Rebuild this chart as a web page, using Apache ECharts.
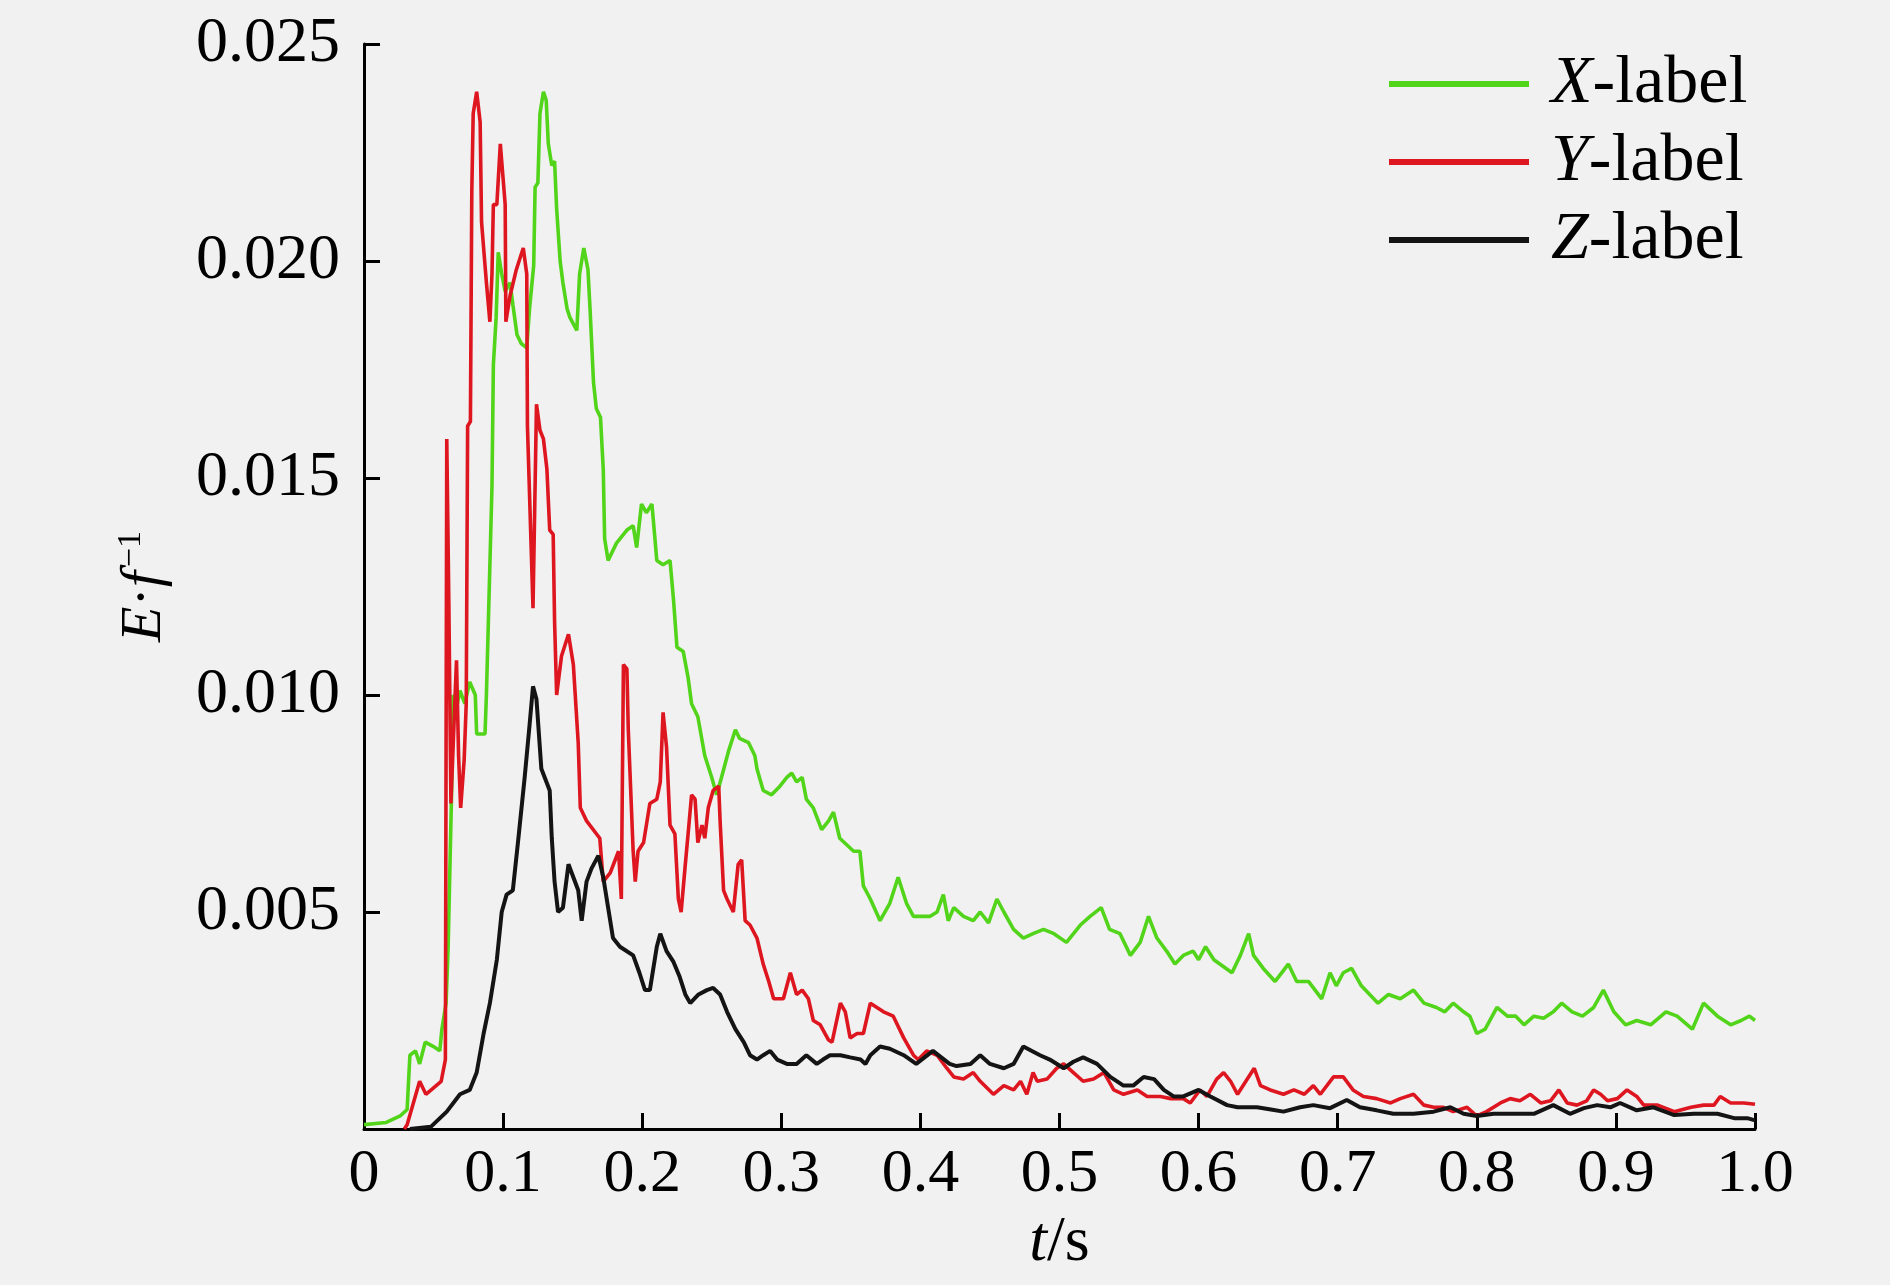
<!DOCTYPE html>
<html><head><meta charset="utf-8">
<script src="https://cdn.jsdelivr.net/npm/echarts@6/dist/echarts.min.js"></script>
<style>html,body{margin:0;padding:0;background:#f1f1f1}#c{width:1890px;height:1285px}</style>
</head><body><div id="c"></div><script>
// ---- data ----
const seriesNames = ['X-label', 'Y-label', 'Z-label'];
const xTicks = [0, 0.1, 0.2, 0.3, 0.4, 0.5, 0.6, 0.7, 0.8, 0.9, 1.0];
const yTicks = [0.005, 0.010, 0.015, 0.020, 0.025];

const GT = [0,0.016,0.026,0.031,0.033,0.037,0.040,0.044,0.050,0.0545,
0.056,0.059,0.0605,0.063,0.064,0.0665,0.069,0.0725,0.076,0.080,
0.081,0.087,0.088,0.0895,0.092,0.093,0.095,0.0965,0.099,0.1015,
0.105,0.107,0.110,0.113,0.117,0.119,0.122,0.123,0.125,0.1265,
0.129,0.131,0.1325,0.135,0.137,0.1385,0.141,0.143,0.146,0.148,
0.153,0.155,0.158,0.161,0.1625,0.165,0.167,0.170,0.172,0.173,
0.1755,0.1815,0.189,0.1935,0.196,0.1995,0.203,0.207,0.2105,0.215,
0.220,0.2225,0.225,0.2295,0.233,0.2355,0.240,0.245,0.250,0.2535,
0.257,0.262,0.267,0.270,0.2765,0.281,0.2825,0.287,0.293,0.299,
0.304,0.3075,0.311,0.315,0.318,0.323,0.329,0.334,0.3375,0.342,
0.352,0.3565,0.359,0.364,0.371,0.378,0.384,0.390,0.395,0.407,
0.412,0.4165,0.420,0.424,0.431,0.438,0.443,0.449,0.455,0.460,
0.467,0.474,0.481,0.4885,0.496,0.505,0.515,0.522,0.530,0.536,
0.5435,0.551,0.558,0.564,0.570,0.577,0.583,0.589,0.596,0.600,
0.605,0.611,0.624,0.630,0.636,0.6395,0.6465,0.655,0.6645,0.6705,
0.679,0.6885,0.6945,0.699,0.704,0.710,0.717,0.723,0.729,0.7365,
0.745,0.7545,0.762,0.771,0.777,0.783,0.7905,0.795,0.800,0.806,
0.8145,0.822,0.828,0.834,0.841,0.848,0.855,0.861,0.8685,0.876,
0.884,0.891,0.8985,0.907,0.915,0.925,0.936,0.944,0.955,0.963,
0.973,0.9825,0.990,0.996,1.000];
const GV = [0.0001,0.00015,0.0003,0.00045,0.0017,0.0018,0.0015,0.0020,0.0019,0.0018,
0.0023,0.0029,0.0042,0.0078,0.0100,0.0097,0.0101,0.0098,0.0103,0.0100,
0.0091,0.0091,0.0100,0.0118,0.0148,0.0176,0.0187,0.0202,0.0197,0.0193,
0.0195,0.0190,0.0183,0.0181,0.0180,0.0189,0.0199,0.0217,0.0218,0.0234,
0.0239,0.0237,0.0227,0.0222,0.0223,0.0212,0.0200,0.0195,0.0189,0.0187,
0.0184,0.0197,0.0203,0.0198,0.0189,0.0172,0.0166,0.0164,0.0152,0.0136,
0.0131,0.0135,0.0138,0.0139,0.0134,0.0144,0.0142,0.0144,0.0131,0.0130,
0.0131,0.0122,0.0111,0.0110,0.0104,0.0098,0.0095,0.0086,0.0081,0.0077,
0.0081,0.0087,0.0092,0.0090,0.0089,0.0086,0.0083,0.0078,0.0077,0.0079,
0.0081,0.0082,0.0080,0.0081,0.0076,0.0074,0.0069,0.0071,0.0073,0.0067,
0.0064,0.0064,0.0056,0.0053,0.0048,0.0052,0.0058,0.0052,0.0049,0.0049,
0.0050,0.0054,0.0048,0.0051,0.0049,0.0048,0.0050,0.00475,0.0053,0.0050,
0.0046,0.0044,0.0045,0.0046,0.0045,0.0043,0.0047,0.0049,0.0051,0.0046,
0.0045,0.0040,0.0043,0.0049,0.0044,0.0041,0.0038,0.0040,0.0041,0.0039,
0.0042,0.0039,0.0036,0.0040,0.0045,0.0040,0.0037,0.0034,0.0038,0.0034,
0.0034,0.0030,0.0036,0.0033,0.0036,0.0037,0.0033,0.0031,0.0029,0.0031,
0.0030,0.0032,0.0029,0.0028,0.0027,0.0029,0.0027,0.0026,0.0022,0.0023,
0.0028,0.0026,0.0026,0.0024,0.0026,0.00255,0.0027,0.0029,0.0027,0.0026,
0.0028,0.0032,0.0027,0.0024,0.0025,0.0024,0.0027,0.0026,0.0023,0.0029,
0.0026,0.0024,0.0025,0.0026,0.0025];

const RT = [0.029,0.031,0.040,0.0445,0.0555,0.0585,0.0595,0.061,0.0625,0.0655,
0.0665,0.068,0.0695,0.072,0.0735,0.0745,0.0765,0.0775,0.0785,0.081,
0.0835,0.0845,0.087,0.088,0.0905,0.092,0.093,0.0955,0.098,0.1015,
0.102,0.105,0.1095,0.1145,0.117,0.1175,0.1215,0.124,0.1265,0.129,
0.1315,0.1335,0.136,0.137,0.1385,0.142,0.147,0.1505,0.154,0.1555,
0.160,0.1695,0.172,0.177,0.183,0.185,0.1865,0.189,0.190,0.1935,
0.195,0.197,0.201,0.2055,0.2105,0.213,0.215,0.2175,0.220,0.2235,
0.226,0.228,0.231,0.233,0.2355,0.238,0.240,0.243,0.245,0.2475,
0.251,0.255,0.256,0.2585,0.261,0.2655,0.269,0.2715,0.274,0.2775,
0.2825,0.287,0.291,0.2945,0.3015,0.3065,0.311,0.315,0.3195,0.323,
0.328,0.334,0.3365,0.3425,0.346,0.3495,0.3545,0.359,0.364,0.3735,
0.3805,0.388,0.395,0.3985,0.4045,0.412,0.419,0.424,0.431,0.438,
0.443,0.4525,0.460,0.467,0.472,0.4765,0.481,0.484,0.491,0.498,
0.503,0.510,0.517,0.5245,0.532,0.539,0.546,0.556,0.563,0.5725,
0.580,0.589,0.594,0.601,0.606,0.613,0.618,0.623,0.628,0.635,
0.640,0.6445,0.6515,0.661,0.6685,0.676,0.6825,0.6875,0.697,0.704,
0.711,0.7185,0.728,0.738,0.745,0.7545,0.762,0.769,0.776,0.783,
0.793,0.800,0.807,0.817,0.824,0.831,0.8385,0.846,0.853,0.859,
0.865,0.872,0.879,0.884,0.889,0.894,0.901,0.908,0.915,0.920,
0.930,0.942,0.954,0.963,0.9705,0.975,0.9825,0.992,1.000];
const RV = [0,0.0001,0.0011,0.0008,0.0011,0.0016,0.0159,0.0121,0.0075,0.0100,
0.0108,0.0086,0.0074,0.0085,0.0098,0.0162,0.0163,0.0216,0.0234,0.0239,
0.0232,0.0209,0.0199,0.0195,0.0186,0.0197,0.0213,0.0213,0.0227,0.0213,
0.0186,0.0192,0.0198,0.0203,0.0197,0.0162,0.0120,0.0167,0.0161,0.0159,
0.0152,0.0138,0.0137,0.0117,0.0100,0.0109,0.0114,0.0107,0.0089,0.0074,
0.0071,0.0067,0.0057,0.0059,0.0064,0.0053,0.0107,0.0106,0.0092,0.0064,
0.0057,0.0064,0.0066,0.0075,0.0076,0.0080,0.0096,0.0088,0.0070,0.0068,
0.0053,0.0050,0.0061,0.0068,0.0077,0.0076,0.0066,0.0070,0.0067,0.0074,
0.0078,0.0079,0.0071,0.0055,0.0053,0.0050,0.0061,0.0062,0.0048,0.0047,
0.0044,0.0038,0.0034,0.0030,0.0030,0.0036,0.0031,0.0032,0.0030,0.0025,
0.0024,0.00205,0.0020,0.0029,0.0027,0.0021,0.0022,0.0022,0.0029,0.0027,
0.0026,0.0021,0.0017,0.0016,0.0018,0.0017,0.0014,0.0012,0.00115,0.0013,
0.0011,0.0008,0.0010,0.0009,0.0011,0.0008,0.0013,0.0011,0.00115,0.0014,
0.0015,0.0013,0.0011,0.00115,0.0013,0.0009,0.0008,0.0009,0.00075,0.00075,
0.0007,0.0007,0.0006,0.0009,0.00075,0.00115,0.0013,0.0011,0.0008,0.00115,
0.0014,0.0010,0.0009,0.0008,0.0009,0.0008,0.0010,0.0008,0.0012,0.0012,
0.0009,0.00075,0.0007,0.0006,0.0007,0.0008,0.00055,0.0005,0.0005,0.0004,
0.0005,0.0003,0.0004,0.0006,0.0007,0.00065,0.0008,0.0006,0.00065,0.0009,
0.0006,0.00055,0.00065,0.0009,0.0008,0.00065,0.0007,0.0009,0.00075,0.00055,
0.00055,0.0004,0.0005,0.00055,0.00055,0.00075,0.0006,0.0006,0.00057];

const ZT = [0.033,0.048,0.0595,0.069,0.076,0.081,0.086,0.0905,0.0955,0.099,
0.1025,0.107,0.111,0.1155,0.119,0.1215,0.124,0.1275,0.1335,0.135,
0.137,0.1395,0.143,0.147,0.1505,0.154,0.1565,0.160,0.1635,0.1685,
0.172,0.1755,0.179,0.184,0.1935,0.198,0.202,0.2055,0.2105,0.213,
0.2175,0.2225,0.227,0.231,0.2345,0.2405,0.2465,0.251,0.256,0.261,
0.267,0.273,0.2775,0.2825,0.287,0.292,0.297,0.304,0.311,0.318,
0.3255,0.330,0.335,0.3425,0.3495,0.357,0.3605,0.364,0.371,0.378,
0.388,0.397,0.409,0.421,0.426,0.436,0.443,0.450,0.460,0.467,
0.474,0.486,0.493,0.503,0.510,0.517,0.527,0.5365,0.546,0.553,
0.5605,0.568,0.575,0.582,0.589,0.600,0.6085,0.6205,0.628,0.642,
0.652,0.661,0.673,0.6825,0.6945,0.7065,0.716,0.728,0.740,0.7545,
0.769,0.781,0.7905,0.800,0.812,0.824,0.841,0.855,0.867,0.877,
0.8865,0.896,0.903,0.915,0.927,0.942,0.956,0.973,0.985,0.9945,1.000];
const ZV = [0,0.00005,0.0004,0.0008,0.0009,0.0013,0.0022,0.0029,0.0039,0.0050,
0.0054,0.0055,0.0067,0.0081,0.0093,0.0102,0.0099,0.0083,0.0078,0.0067,
0.0057,0.0050,0.0051,0.0061,0.0058,0.0055,0.0048,0.0057,0.0060,0.0063,
0.0058,0.0051,0.0044,0.0042,0.0040,0.0036,0.0032,0.0032,0.0042,0.0045,
0.0041,0.00385,0.0035,0.0031,0.0029,0.0031,0.0032,0.00325,0.0031,0.0027,
0.0023,0.0020,0.0017,0.0016,0.0017,0.0018,0.0016,0.0015,0.0015,0.0017,
0.0015,0.0016,0.0017,0.0017,0.00165,0.0016,0.0015,0.0017,0.0019,0.00185,
0.0017,0.0015,0.0018,0.0015,0.00145,0.0015,0.0017,0.0015,0.0014,0.0015,
0.0019,0.0017,0.0016,0.0014,0.00155,0.00165,0.0015,0.0012,0.0010,0.0010,
0.0012,0.00115,0.0009,0.00075,0.00075,0.0009,0.00075,0.00055,0.0005,0.0005,
0.00045,0.0004,0.0005,0.00055,0.00048,0.00067,0.0005,0.00043,0.00035,0.00035,
0.0004,0.0005,0.00035,0.0003,0.00035,0.00035,0.00035,0.00055,0.00035,0.00048,
0.00055,0.0005,0.0006,0.00043,0.0005,0.00032,0.00035,0.00035,0.00025,0.00025,0.0002];

// ---- chart ----
const FONT = '"Liberation Serif", "Times New Roman", serif';
const zip = (t, v) => t.map((x, i) => [x, v[i]]);
const colors = ['#52d41a', '#de1620', '#141414'];

const chart = echarts.init(document.getElementById('c'), null, {renderer: 'canvas'});
chart.setOption({
  backgroundColor: '#f1f1f1',
  animation: false,
  color: colors,
  grid: {left: 364, right: 135, top: 44, bottom: 156, containLabel: false},
  legend: {
    orient: 'vertical', left: 1384, top: 45,
    icon: 'rect', itemWidth: 140, itemHeight: 6, itemGap: 10,
    data: seriesNames,
    formatter: n => '{i|' + n[0] + '}{n|' + n.slice(1) + '}',
    textStyle: {
      color: '#000', fontFamily: FONT, fontSize: 68,
      rich: {
        i: {fontFamily: FONT, fontSize: 68, fontStyle: 'italic', color: '#000', padding: [0, 0, 0, 17], lineHeight: 68},
        n: {fontFamily: FONT, fontSize: 68, color: '#000', lineHeight: 68}
      }
    }
  },
  xAxis: {
    type: 'value', min: 0, max: 1, interval: 0.1,
    name: '{i|t}{n|/s}', nameLocation: 'middle', nameGap: 78,
    nameTextStyle: {
      color: '#000', fontFamily: FONT, fontSize: 64,
      rich: {i: {fontFamily: FONT, fontSize: 64, fontStyle: 'italic', color: '#000'},
             n: {fontFamily: FONT, fontSize: 64, color: '#000'}}
    },
    axisLine: {lineStyle: {color: '#000', width: 3}},
    axisTick: {inside: true, length: 16, lineStyle: {color: '#000', width: 3}},
    axisLabel: {color: '#000', fontFamily: FONT, fontSize: 62, margin: 15,
      formatter: v => { const k = xTicks.findIndex(t => Math.abs(t - v) < 1e-9); return k === 0 ? '0' : xTicks[k].toFixed(1); }},
    splitLine: {show: false}
  },
  yAxis: {
    type: 'value', min: 0, max: 0.025, interval: 0.005,
    name: '{i|E}{n|·}{i|f}{s|−1}', nameLocation: 'middle', nameGap: 188,
    nameTextStyle: {
      color: '#000', fontFamily: FONT, fontSize: 58,
      rich: {i: {fontFamily: FONT, fontSize: 58, fontStyle: 'italic', color: '#000', lineHeight: 62},
             n: {fontFamily: FONT, fontSize: 58, color: '#000', lineHeight: 62},
             s: {fontFamily: FONT, fontSize: 34, color: '#000', verticalAlign: 'top', lineHeight: 62, padding: [0, 0, 0, 4]}}
    },
    axisLine: {lineStyle: {color: '#000', width: 3}},
    axisTick: {inside: true, length: 16, lineStyle: {color: '#000', width: 3}},
    axisLabel: {color: '#000', fontFamily: FONT, fontSize: 64, margin: 24,
      formatter: v => { const k = yTicks.findIndex(t => Math.abs(t - v) < 1e-9); return k < 0 ? '' : yTicks[k].toFixed(3); }},
    splitLine: {show: false}
  },
  series: [
    {name: seriesNames[0], type: 'line', data: zip(GT, GV), symbol: 'none', lineStyle: {width: 3.6, color: colors[0]}},
    {name: seriesNames[1], type: 'line', data: zip(RT, RV), symbol: 'none', lineStyle: {width: 3.6, color: colors[1]}},
    {name: seriesNames[2], type: 'line', data: zip(ZT, ZV), symbol: 'none', lineStyle: {width: 4, color: colors[2]}}
  ]
});
</script></body></html>
